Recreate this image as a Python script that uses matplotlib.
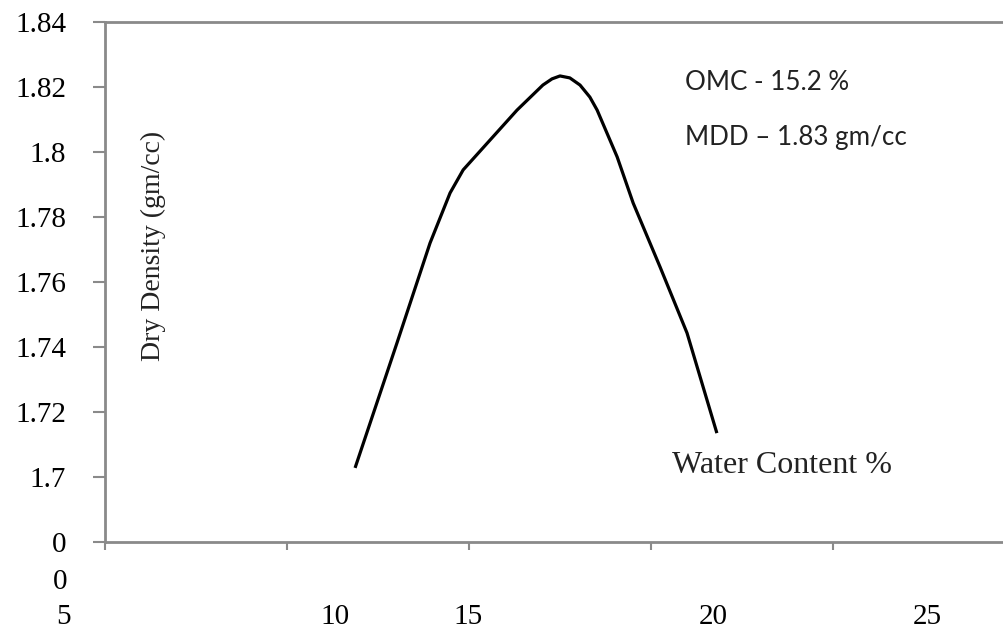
import numpy as np
import matplotlib
matplotlib.use("Agg")
import matplotlib.pyplot as plt

# curve (water content %, dry density)
water = [11.87, 13.02, 13.93, 14.48, 14.84, 15.58, 16.32, 17.03, 17.28, 17.50,
         17.77, 18.05, 18.32, 18.52, 19.07, 19.51, 20.25, 20.99, 21.81]
density = [1.7028, 1.7412, 1.7720, 1.7874, 1.7945, 1.8037, 1.8129, 1.8206, 1.8225, 1.8234,
           1.8228, 1.8206, 1.8169, 1.8129, 1.7985, 1.7843, 1.7646, 1.7443, 1.7135]

y_ticks = [1.68, 1.70, 1.72, 1.74, 1.76, 1.78, 1.80, 1.82, 1.84]
y_labels = ["0", "1.7", "1.72", "1.74", "1.76", "1.78", "1.8", "1.82", "1.84"]
x_ticks = [5, 10, 15, 20, 25]
x_labels = ["5", "10", "15", "20", "25"]
x_label_pos = [3.85, 11.32, 14.97, 21.70, 27.60]   # labels sit off their ticks

serif = "Liberation Serif"
grey = "#8a8a8a"

fig = plt.figure(figsize=(10.04, 6.33), dpi=100)
ax = fig.add_axes([105 / 1004, 1 - 542 / 633, 899 / 1004, 520 / 633])

ax.plot(water, density, color="black", lw=2.3, solid_capstyle="butt",
        solid_joinstyle="round")

ax.set_xlim(5, 5 + 899 / 36.4)
ax.set_ylim(1.68, 1.84)

ax.set_yticks(y_ticks)
ax.set_yticklabels(y_labels, family=serif, fontsize=21)
ax.set_xticks(x_ticks)
ax.set_xticklabels([])
ax.tick_params(axis="y", length=9, width=1.5, color=grey, pad=19)
ax.tick_params(axis="x", length=6, width=1.5, color=grey)

for s in ["left", "bottom", "top"]:
    ax.spines[s].set_color(grey)
    ax.spines[s].set_linewidth(2)
ax.spines["right"].set_visible(False)

for pos, lab in zip(x_label_pos, x_labels):
    ax.text(pos, -0.144, lab, transform=ax.get_xaxis_transform(), ha="center",
            va="center", family=serif, fontsize=21, clip_on=False)
ax.text(-0.0423, -0.077, "0", transform=ax.transAxes, ha="right", va="center",
        family=serif, fontsize=21, clip_on=False)

ax.text(0.054, 0.569, "Dry Density (gm/cc)", transform=ax.transAxes, rotation=90,
        ha="center", va="center", family=serif, fontsize=20, color="#222222")
ax.text(0.631, 0.148, "Water Content %", transform=ax.transAxes, ha="left",
        va="center", family=serif, fontsize=23, color="#222222")
ax.text(0.645, 0.883, "OMC - 15.2 %", transform=ax.transAxes, ha="left",
        va="center", family="Lato", fontsize=18.7, color="#222222")
ax.text(0.645, 0.777, "MDD \u2013 1.83 gm/cc", transform=ax.transAxes, ha="left",
        va="center", family="Lato", fontsize=18.7, color="#222222")

fig.savefig("out.png", dpi=100)
